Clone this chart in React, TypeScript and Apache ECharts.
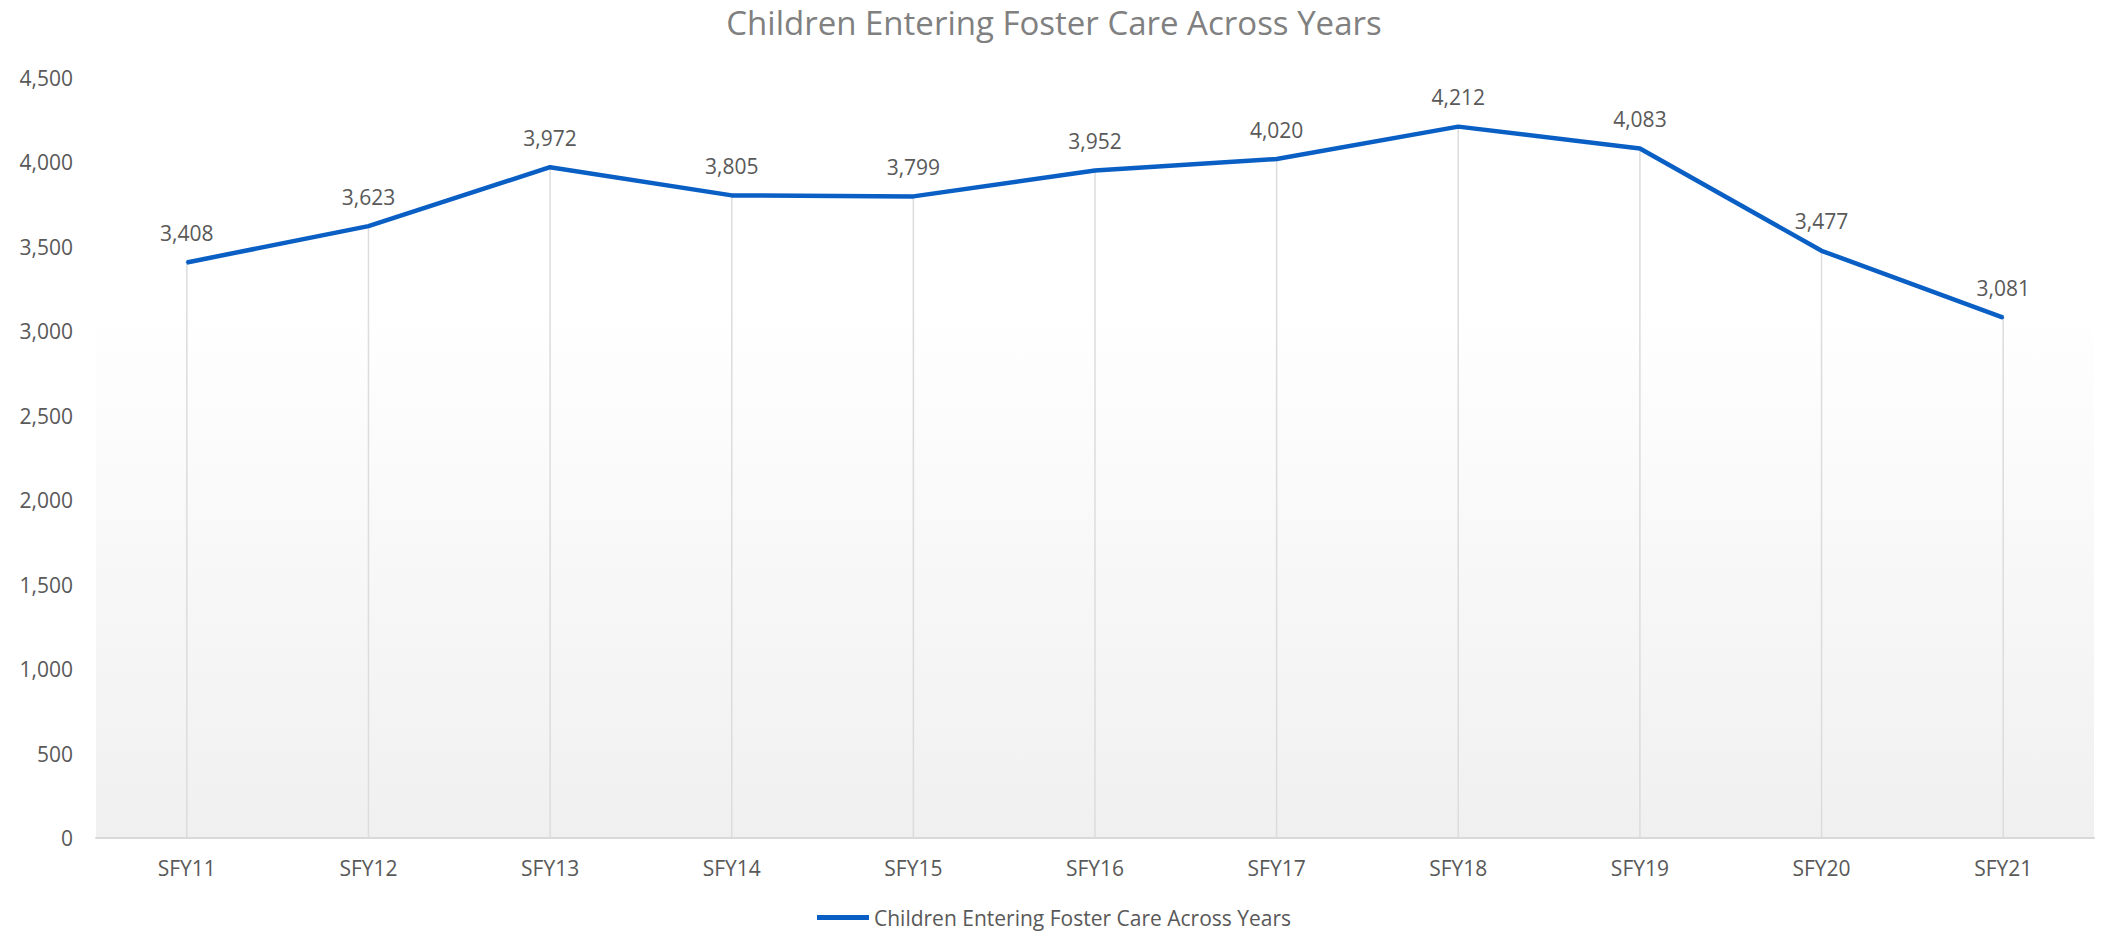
import React, { useEffect, useRef } from "react";
import * as echarts from "echarts";

const categories = ["SFY11", "SFY12", "SFY13", "SFY14", "SFY15", "SFY16", "SFY17", "SFY18", "SFY19", "SFY20", "SFY21"];
const entries = [3408, 3623, 3972, 3805, 3799, 3952, 4020, 4212, 4083, 3477, 3081];
const seriesName = "Children Entering Foster Care Across Years";
const titleText = "Children Entering Foster Care Across Years";

const fmt = (v: number) => Number(v).toLocaleString("en-US");

export default function App() {
  const ref = useRef<HTMLDivElement>(null);
  useEffect(() => {
    if (!ref.current) return;
    const chart = echarts.init(ref.current, undefined, { renderer: "svg" });
    const font = "'Open Sans', 'Noto Sans', sans-serif";
    chart.setOption({
      animation: false,
      backgroundColor: "#ffffff",
      textStyle: { fontFamily: font },
      title: {
        text: titleText,
        left: "center",
        top: 1,
        textStyle: { fontFamily: font, fontSize: 33, fontWeight: "normal", color: "#808080" },
      },
      legend: {
        data: [seriesName],
        bottom: 2,
        left: "center",
        icon: "rect",
        itemWidth: 52,
        itemHeight: 5,
        textStyle: { fontFamily: font, fontSize: 21, color: "#595959" },
      },
      grid: {
        left: 96,
        right: 14,
        top: 78,
        bottom: 97,
        show: true,
        borderWidth: 0,
        backgroundColor: new echarts.graphic.LinearGradient(0, 0, 0, 1, [
          { offset: 0, color: "#ffffff" },
          { offset: 0.3, color: "#ffffff" },
          { offset: 1, color: "#f0f0f0" },
        ]),
      },
      xAxis: {
        type: "category",
        data: categories,
        boundaryGap: true,
        axisLine: { show: true, lineStyle: { color: "#d9d9d9", width: 2 } },
        axisTick: { show: false },
        splitLine: { show: false },
        axisLabel: { color: "#595959", fontSize: 21, fontFamily: font, margin: 19 },
      },
      yAxis: {
        type: "value",
        min: 0,
        max: 4500,
        interval: 500,
        axisLine: { show: false },
        axisTick: { show: false },
        splitLine: { show: false },
        axisLabel: { color: "#595959", fontSize: 21, fontFamily: font, margin: 23, formatter: fmt },
      },
      series: [
        {
          name: "drop",
          type: "bar",
          data: entries,
          barWidth: 1.5,
          silent: true,
          z: 1,
          itemStyle: { color: "#dcdcdc" },
        },
        {
          name: seriesName,
          type: "line",
          data: entries,
          z: 3,
          symbol: "circle",
          symbolSize: 2,
          showSymbol: true,
          itemStyle: { color: "#0a5fc4" },
          lineStyle: { color: "#0a5fc4", width: 4.5 },
          label: {
            show: true,
            position: "top",
            distance: 18,
            color: "#595959",
            fontSize: 21,
            fontFamily: font,
            formatter: (p: any) => fmt(p.value),
          },
        },
      ],
    });
    return () => chart.dispose();
  }, []);
  return <div ref={ref} style={{ position: "fixed", left: 0, top: 0, width: 2108, height: 935 }} />;
}
